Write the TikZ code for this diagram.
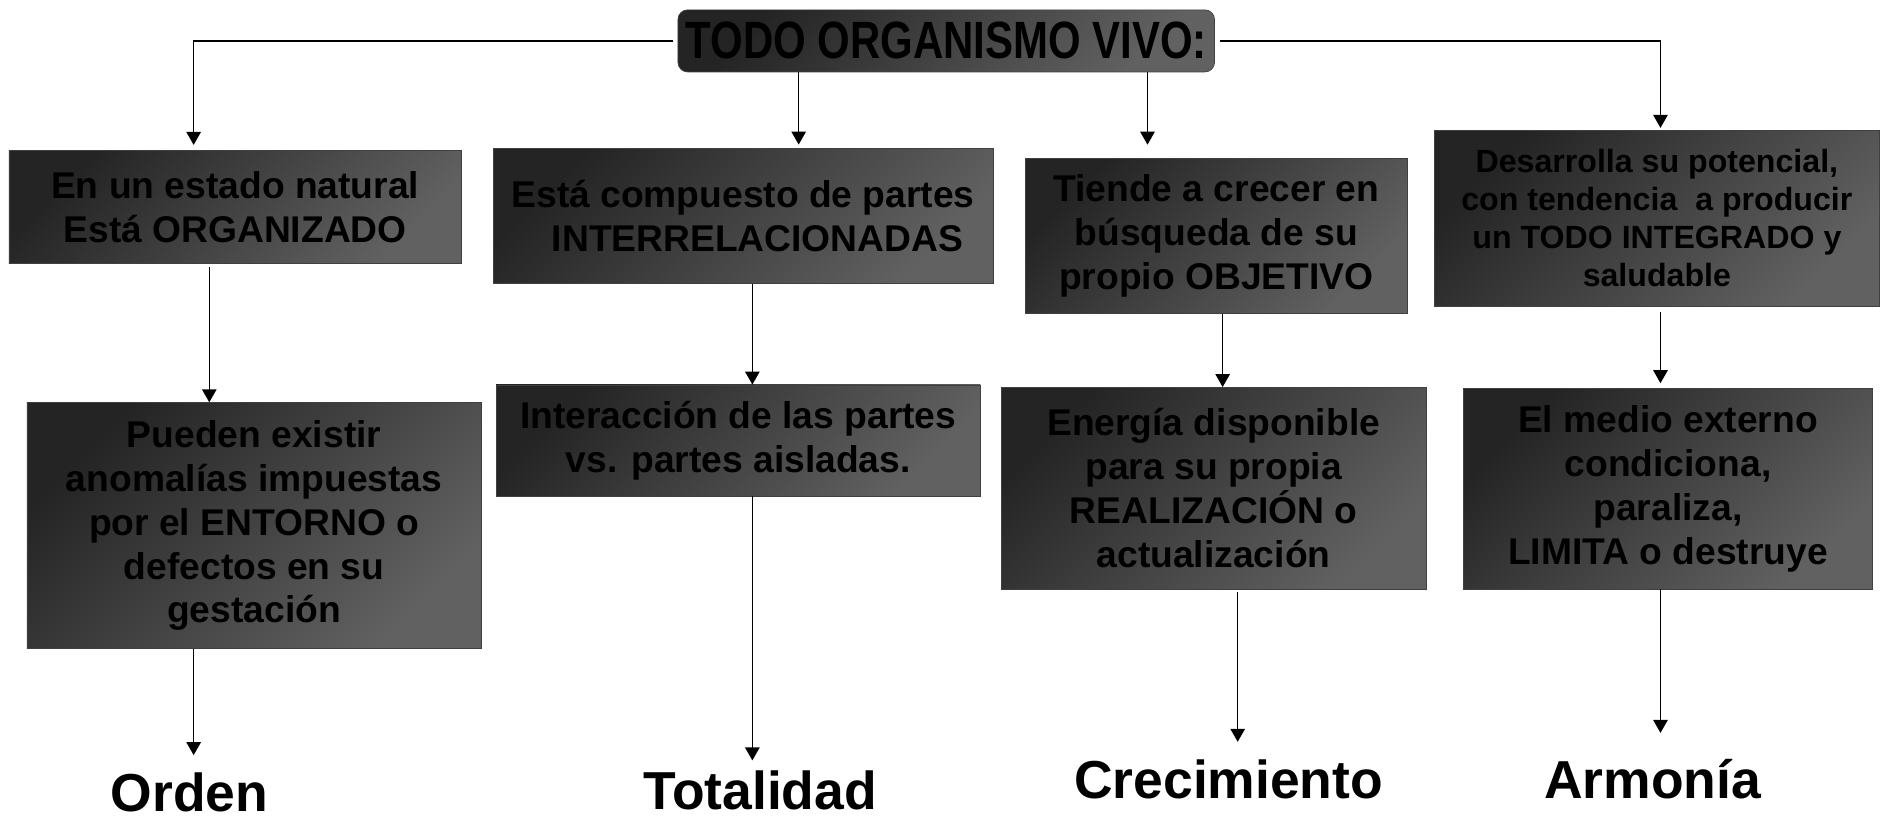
\documentclass[tikz,border=0pt]{standalone}
\usepackage{fontspec}
\setmainfont{Liberation Sans}
\usepackage{graphicx}
\usetikzlibrary{arrows.meta,shapes}

\begin{document}
\begin{tikzpicture}[x=0.025cm,y=-0.025cm,>={Triangle[length=0.27cm,width=0.3cm]},line width=0.8pt]
  \tikzstyle{card}=[rectangle,draw=black!75,thin,top color=black!86,bottom color=black!62,
                    shading angle=45,inner sep=0pt,align=center,
                    font=\bfseries\fontsize{22}{26}\selectfont]
  \tikzstyle{head}=[card,rounded corners=0.2cm]
  \tikzstyle{result}=[anchor=base,inner sep=0pt,font=\bfseries\fontsize{31.6}{36}\selectfont]

  \fill[white] (0,0) rectangle (1568,683.4);
  \useasboundingbox (0,0) rectangle (1568,683.4);

  \coordinate (k1) at (161,0);
  \coordinate (k2) at (174,0);
  \coordinate (k3) at (625.5,0);
  \coordinate (k4) at (664,0);
  \coordinate (k5) at (954,0);
  \coordinate (k6) at (1016.5,0);
  \coordinate (k7) at (1029,0);
  \coordinate (k8) at (1380.5,0);

  \node[head,minimum width=11.15cm,minimum height=1.29cm] (todo) at (786.7,34)
    {\scalebox{0.8}[1]{\fontsize{31}{36}\selectfont TODO ORGANISMO VIVO:}};

  \node[card,minimum width=9.4cm,minimum height=2.34cm] (estado) at (195.5,172.2)
    {En un estado natural\\Está ORGANIZADO};
  \node[card,minimum width=10.39cm,minimum height=2.805cm] (partes) at (617.8,179.4)
    {Está compuesto de partes\\\hspace*{0.6cm}INTERRELACIONADAS};
  \node[card,minimum width=7.94cm,minimum height=3.22cm] (crecer) at (1011.25,196)
    {Tiende a crecer en\\búsqueda de su\\propio OBJETIVO};
  \node[card,minimum width=9.25cm,minimum height=3.645cm,
        font=\bfseries\fontsize{19}{22.5}\selectfont] (potencial) at (1377.5,181.5)
    {Desarrolla su potencial,\\con tendencia\ \ a producir\\un TODO INTEGRADO y\\saludable};

  \node[card,minimum width=9.44cm,minimum height=5.105cm] (entorno) at (211.25,436.9)
    {Pueden existir\\anomalías impuestas\\por el ENTORNO o\\defectos en su\\gestación};
  \node[card,minimum width=10.06cm,minimum height=2.31cm] (interaccion) at (613.75,366.25)
    {Interacción de las partes\\vs. partes aisladas.};
  \node[card,minimum width=8.83cm,minimum height=4.19cm] (energia) at (1009,405.9)
    {Energía disponible\\para su propia\\REALIZACIÓN o\\actualización};
  \node[card,minimum width=8.49cm,minimum height=4.17cm] (medio) at (1386.75,406.3)
    {El medio externo\\condiciona,\\paraliza,\\LIMITA o destruye};

  \node[result] (orden) at (157.5,675) {Orden};
  \node[result] (totalidad) at (632,673) {Totalidad};
  \node[result] (crecimiento) at (1021.5,663.5) {Crecimiento};
  \node[result] (armonia) at (1374,663.5) {Armonía};

  \draw[->,shorten <=0.09cm,shorten >=0.115cm] (todo.west) -| (estado.north -| k1);
  \draw[->,shorten >=0.07cm] (todo.south -| k4) -- (partes.north -| k4);
  \draw[->,shorten >=0.275cm] (todo.south -| k5) -- (crecer.north -| k5);
  \draw[->,shorten <=0.1cm,shorten >=0.05cm] (todo.east) -| (potencial.north -| k8);

  \draw[->,shorten <=0.07cm] (estado.south -| k2) -- (entorno.north -| k2);
  \draw[->] (partes.south -| k3) -- (interaccion.north -| k3);
  \draw[->] (crecer.south -| k6) -- (energia.north -| k6);
  \draw[->,shorten <=0.115cm,shorten >=0.1cm] (potencial.south -| k8) -- (medio.north -| k8);

  \draw[->,shorten >=0.36cm] (entorno.south -| k1) -- (orden.north -| k1);
  \draw[->,shorten >=0.2cm] (interaccion.south -| k3) -- (totalidad.north -| k3);
  \draw[->,shorten <=0.055cm,shorten >=0.35cm] (energia.south -| k7) -- (crecimiento.north -| k7);
  \draw[->,shorten >=0.525cm] (medio.south -| k8) -- (armonia.north -| k8);
\end{tikzpicture}
\end{document}
